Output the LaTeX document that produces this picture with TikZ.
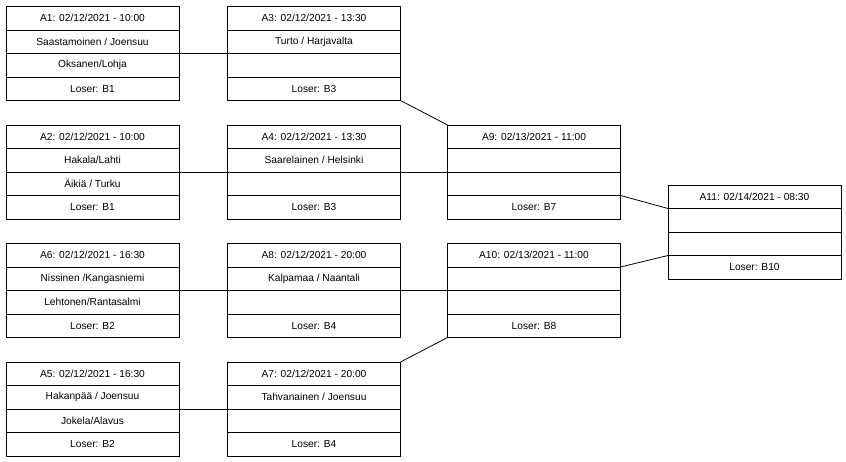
\documentclass[tikz,border=0pt]{standalone}
\usepackage{fontspec}
\setmainfont{Liberation Sans}
\begin{document}
\begin{tikzpicture}[x=1pt,y=-1pt,
  cell/.style={draw=black, line width=0.8pt, rectangle, anchor=north west,
    minimum width=173pt, minimum height=23.5pt, inner sep=0pt, outer sep=0pt,
    font=\fontsize{10.2}{12}\selectfont},
  link/.style={draw=black, line width=0.8pt}]
\useasboundingbox[fill=white] (0,0) rectangle (846,462);
\newcommand\matchbox[7]{%
  \node[cell] (#1-1) at (#2,#3) {#4};
  \node[cell] (#1-2) at (#1-1.south west) {#5};
  \node[cell] (#1-3) at (#1-2.south west) {#6};
  \node[cell] (#1-4) at (#1-3.south west) {#7};}
\matchbox{A1}{6}{6.5}{A1: 02/12/2021 - 10:00}{Saastamoinen / Joensuu}{Oksanen/Lohja}{Loser: B1}
\matchbox{A2}{6}{125}{A2: 02/12/2021 - 10:00}{Hakala/Lahti}{Äikiä / Turku}{Loser: B1}
\matchbox{A6}{6}{243.5}{A6: 02/12/2021 - 16:30}{Nissinen /Kangasniemi}{Lehtonen/Rantasalmi}{Loser: B2}
\matchbox{A5}{6}{362}{A5: 02/12/2021 - 16:30}{Hakanpää / Joensuu}{Jokela/Alavus}{Loser: B2}
\matchbox{A3}{227.5}{6.5}{A3: 02/12/2021 - 13:30}{Turto / Harjavalta}{}{Loser: B3}
\matchbox{A4}{227.5}{125}{A4: 02/12/2021 - 13:30}{Saarelainen / Helsinki}{}{Loser: B3}
\matchbox{A8}{227.5}{243.5}{A8: 02/12/2021 - 20:00}{Kalpamaa / Naantali}{}{Loser: B4}
\matchbox{A7}{227.5}{362}{A7: 02/12/2021 - 20:00}{Tahvanainen / Joensuu}{}{Loser: B4}
\matchbox{A9}{447.5}{125}{A9: 02/13/2021 - 11:00}{}{}{Loser: B7}
\matchbox{A10}{447.5}{243.5}{A10: 02/13/2021 - 11:00}{}{}{Loser: B8}
\matchbox{A11}{668}{185}{A11: 02/14/2021 - 08:30}{}{}{Loser: B10}
\draw[link] (A1-3.north east) -- (A3-3.north west);
\draw[link] (A2-3.north east) -- (A4-3.north west);
\draw[link] (A4-3.north east) -- (A9-3.north west);
\draw[link] (A6-3.north east) -- (A8-3.north west);
\draw[link] (A8-3.north east) -- (A10-3.north west);
\draw[link] (A5-3.north east) -- (A7-3.north west);
\draw[link] (A3-4.south east) -- (A9-1.north west);
\draw[link] (A7-1.north east) -- (A10-4.south west);
\draw[link] (A9-4.north east) -- (A11-2.north west);
\draw[link] (A10-2.north east) -- (A11-4.north west);
\end{tikzpicture}
\end{document}
